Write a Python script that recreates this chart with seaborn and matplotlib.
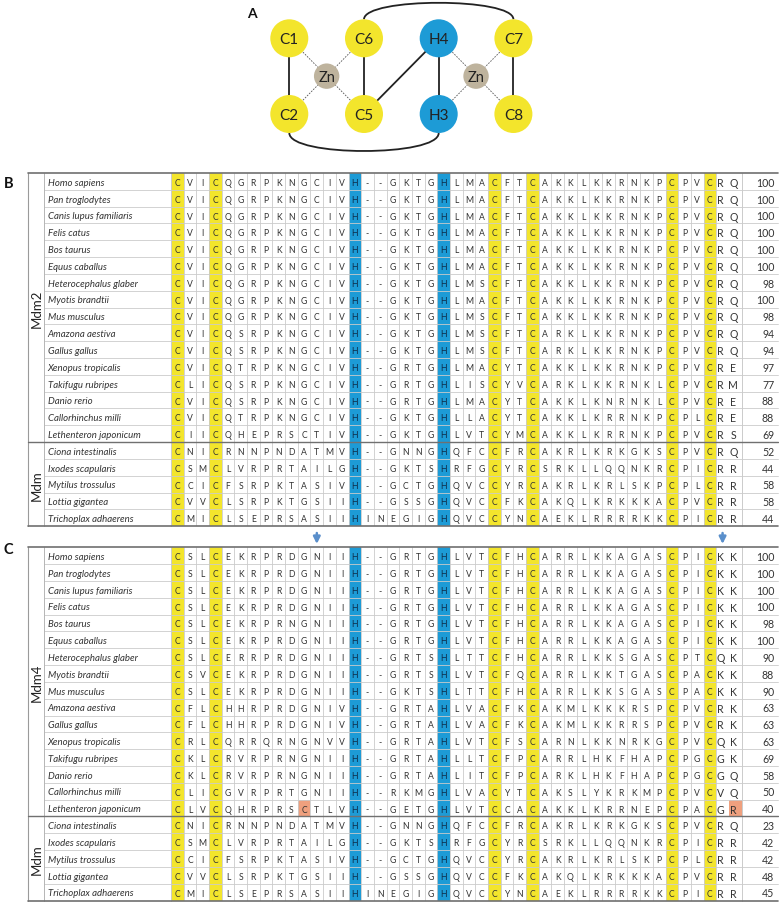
import numpy as np
import pandas as pd
import matplotlib
matplotlib.use("Agg")
import matplotlib.pyplot as plt
import seaborn as sns
from matplotlib.colors import ListedColormap
from matplotlib.patches import Circle, PathPatch
from matplotlib.path import Path

# ---------------- data ----------------
species = ["Homo sapiens", "Pan troglodytes", "Canis lupus familiaris", "Felis catus",
           "Bos taurus", "Equus caballus", "Heterocephalus glaber", "Myotis brandtii",
           "Mus musculus", "Amazona aestiva", "Gallus gallus", "Xenopus tropicalis",
           "Takifugu rubripes", "Danio rerio", "Callorhinchus milli", "Lethenteron japonicum",
           "Ciona intestinalis", "Ixodes scapularis", "Mytilus trossulus", "Lottia gigantea",
           "Trichoplax adhaerens"]

groups_b = [("Mdm2", 16), ("Mdm", 5)]
groups_c = [("Mdm4", 16), ("Mdm", 5)]

mdm2_seqs = [
    "CVICQGRPKNGCIVH--GKTGHLMACFTCAKKLKKRNKPCPVCRQ",
    "CVICQGRPKNGCIVH--GKTGHLMACFTCAKKLKKRNKPCPVCRQ",
    "CVICQGRPKNGCIVH--GKTGHLMACFTCAKKLKKRNKPCPVCRQ",
    "CVICQGRPKNGCIVH--GKTGHLMACFTCAKKLKKRNKPCPVCRQ",
    "CVICQGRPKNGCIVH--GKTGHLMACFTCAKKLKKRNKPCPVCRQ",
    "CVICQGRPKNGCIVH--GKTGHLMACFTCAKKLKKRNKPCPVCRQ",
    "CVICQGRPKNGCIVH--GKTGHLMSCFTCAKKLKKRNKPCPVCRQ",
    "CVICQGRPKNGCIVH--GKTGHLMACFTCAKKLKKRNKPCPVCRQ",
    "CVICQGRPKNGCIVH--GKTGHLMSCFTCAKKLKKRNKPCPVCRQ",
    "CVICQSRPKNGCIVH--GKTGHLMSCFTCARKLKKRNKPCPVCRQ",
    "CVICQSRPKNGCIVH--GKTGHLMSCFTCARKLKKRNKPCPVCRQ",
    "CVICQTRPKNGCIVH--GRTGHLMACYTCAKKLKKRNKPCPVCRE",
    "CLICQSRPKNGCIVH--GRTGHLISCYVCARKLKKRNKLCPVCRM",
    "CVICQSRPKNGCIVH--GRTGHLMACYTCAKKLKNRNKLCPVCRE",
    "CVICQTRPKNGCIVH--GKTGHLLACYTCAKKLKRRNKPCPLCRE",
    "CIICQHEPRSCTIVH--GKTGHLVTCYMCAKKLKRRNKPCPVCRS",
    "CNICRNNPNDATMVH--GNNGHQFCCFRCAKRLKRKGKSCPVCRQ",
    "CSMCLVRPRTAILGH--GKTSHRFGCYRCSRKLLQQNKRCPICRR",
    "CCICFSRPKTASIVH--GCTGHQVCCYRCAKRLKRLSKPCPLCRR",
    "CVVCLSRPKTGSIIH--GSSGHQVCCFKCAKQLKRKKKACPVCRR",
    "CMICLSEPRSASIIHINEGIGHQVCCYNCAEKLRRRRKKCPICRR",
]
mdm2_identity = [100, 100, 100, 100, 100, 100, 98, 100, 98, 94, 94, 97, 77, 88, 88, 69,
                 52, 44, 58, 58, 44]

mdm4_seqs = [
    "CSLCEKRPRDGNIIH--GRTGHLVTCFHCARRLKKAGASCPICKK",
    "CSLCEKRPRDGNIIH--GRTGHLVTCFHCARRLKKAGASCPICKK",
    "CSLCEKRPRDGNIIH--GRTGHLVTCFHCARRLKKAGASCPICKK",
    "CSLCEKRPRDGNIIH--GRTGHLVTCFHCARRLKKAGASCPICKK",
    "CSLCEKRPRNGNIIH--GRTGHLVTCFHCARRLKKAGASCPICKK",
    "CSLCEKRPRDGNIIH--GRTGHLVTCFHCARRLKKAGASCPICKK",
    "CSLCERRPRDGNIIH--GRTSHLTTCFHCARRLKKSGASCPTCQK",
    "CSVCEKRPRDGNIIH--GRTSHLVTCFQCARRLKKTGASCPACKK",
    "CSLCEKRPRDGNIIH--GKTSHLTTCFHCARRLKKSGASCPACKK",
    "CFLCHHRPRDGNIVH--GRTAHLVACFKCAKMLKKKRSPCPVCRK",
    "CFLCHHRPRDGNIVH--GRTAHLVACFKCAKMLKKRRSPCPVCRK",
    "CRLCQRRQRNGNVVH--GRTAHLVTCFSCARNLKKNRKGCPVCQK",
    "CKLCRVRPRNGNIIH--GRTAHLLTCFPCARRLHKFHAPCPGCGK",
    "CKLCRVRPRNGNIIH--GRTAHLITCFPCARKLHKFHAPCPGCGQ",
    "CLICGVRPRTGNIIH--RKMGHLVACYTCAKSLYKRKMPCPVCVQ",
    "CLVCQHRPRSCTLVH--GETGHLVTCCACAKKLKRRNEPCPACGR",
    "CNICRNNPNDATMVH--GNNGHQFCCFRCAKRLKRKGKSCPVCRQ",
    "CSMCLVRPRTAILGH--GKTSHRFGCYRCSRKLLQQNKRCPICRR",
    "CCICFSRPKTASIVH--GCTGHQVCCYRCAKRLKRLSKPCPLCRR",
    "CVVCLSRPKTGSIIH--GSSGHQVCCFKCAKQLKRKKKACPVCRR",
    "CMICLSEPRSASIIHINEGIGHQVCCYNCAEKLRRRRKKCPICRR",
]
mdm4_identity = [100, 100, 100, 100, 98, 100, 90, 88, 90, 63, 63, 63, 69, 58, 50, 40,
                 23, 42, 42, 48, 45]

cys_cols = [1, 4, 26, 29, 40, 43]          # zinc-binding cysteines (yellow)
his_cols = [15, 22]                        # zinc-binding histidines (blue)
mdm4_new_cys = [("Lethenteron japonicum", 11), ("Lethenteron japonicum", 45)]
arrow_cols_c = [12, 44]

# Panel A: zinc finger topology (grid units)
node_grid = {"C1": (0, 0), "C2": (0, 1), "C6": (1, 0), "C5": (1, 1),
             "H4": (2, 0), "H3": (2, 1), "C7": (3, 0), "C8": (3, 1)}
zn_grid = [(0.5, 0.5), (2.5, 0.5)]
bonds = [("C1", "C2"), ("C6", "C5"), ("H4", "H3"), ("C7", "C8"), ("C5", "H4")]
zn_ligands = [["C1", "C2", "C6", "C5"], ["H4", "H3", "C7", "C8"]]
top_arc = ("C6", "C7")
bottom_arc = ("C2", "H3")

# ---------------- style ----------------
sns.set_theme(style="white")
plt.rcParams["font.family"] = ["Lato", "DejaVu Sans"]

YEL = "#F3E52C"
BLU = "#1D9BD6"
ZNC = "#BEB39D"
SAL = "#EFA07E"
GRID = "#CBCBCB"
DARK = "#707070"
TXT = "#333333"
ARROW = "#5A8FCB"

W, H = 779, 904
fig = plt.figure(figsize=(W / 100, H / 100), dpi=100)
fig.patch.set_facecolor("white")
bg = fig.add_axes([0, 0, 1, 1])
bg.set_xlim(0, W)
bg.set_ylim(H, 0)
bg.axis("off")
bg.set_zorder(5)

# ---------------- Panel A ----------------
GX0, GY0, GSX, GSY = 289.3, 39.3, 74.7, 75.7
R_NODE, R_ZN = 19.0, 12.7


def gpos(g):
    return GX0 + g[0] * GSX, GY0 + g[1] * GSY


for (a, b) in bonds:
    (x1, y1), (x2, y2) = gpos(node_grid[a]), gpos(node_grid[b])
    bg.plot([x1, x2], [y1, y2], color="#222222", lw=1.3, zorder=1, solid_capstyle="butt")
for zg, ligs in zip(zn_grid, zn_ligands):
    zx, zy = gpos(zg)
    for l in ligs:
        lx, ly = gpos(node_grid[l])
        bg.plot([zx, lx], [zy, ly], color="#555555", lw=0.6, ls=(0, (2, 1.5)), zorder=1)

# arcs
(ax1, ay1), (ax2, ay2) = gpos(node_grid[top_arc[0]]), gpos(node_grid[top_arc[1]])
p0, p3 = (ax1, ay1 - R_NODE), (ax2, ay2 - R_NODE)
path = Path([p0, (ax1, p0[1] - 22), (ax2, p3[1] - 22), p3],
            [Path.MOVETO, Path.CURVE4, Path.CURVE4, Path.CURVE4])
bg.add_patch(PathPatch(path, fc="none", ec="#222222", lw=1.3, zorder=1))
(bx1, by1), (bx2, by2) = gpos(node_grid[bottom_arc[0]]), gpos(node_grid[bottom_arc[1]])
q0, q3 = (bx1, by1 + R_NODE), (bx2, by2 + R_NODE)
path = Path([q0, (bx1, q0[1] + 24), (bx2, q3[1] + 24), q3],
            [Path.MOVETO, Path.CURVE4, Path.CURVE4, Path.CURVE4])
bg.add_patch(PathPatch(path, fc="none", ec="#222222", lw=1.3, zorder=1))

for name, g in node_grid.items():
    x, y = gpos(g)
    bg.add_patch(Circle((x, y), R_NODE, fc=BLU if name.startswith("H") else YEL, ec="none", zorder=2))
    bg.text(x, y + 0.5, name, ha="center", va="center", fontsize=11, color="#222222", zorder=3)
for zg in zn_grid:
    x, y = gpos(zg)
    bg.add_patch(Circle((x, y), R_ZN, fc=ZNC, ec="none", zorder=2))
    bg.text(x, y + 0.5, "Zn", ha="center", va="center", fontsize=10.5, color="#222222", zorder=3)

bg.text(252, 14, "A", ha="center", va="center", fontsize=10, fontweight="bold", color="#111111")

# ---------------- Panels B and C ----------------
RH = 16.82
X_LEFT, X_GRP, X_ALN, CW = 28.3, 44.3, 171.0, 12.68
X_RIGHT = 778.0
cmap = ListedColormap(["white", YEL, BLU, SAL])


def draw_panel(top, seqs, ident, groups, extra, arrows, label, label_y):
    n, ncol = len(seqs), len(seqs[0])
    code = np.zeros((n, ncol))
    for j in cys_cols:
        code[:, j - 1] = 1
    for j in his_cols:
        code[:, j - 1] = 2
    for sp, j in extra:
        code[species.index(sp), j - 1] = 3
    df = pd.DataFrame(code, index=species, columns=range(1, ncol + 1))
    bottom = top + n * RH
    x_num = X_ALN + ncol * CW
    hax = fig.add_axes([X_ALN / W, 1 - bottom / H, ncol * CW / W, n * RH / H])
    sns.heatmap(df, ax=hax, cmap=cmap, vmin=-0.5, vmax=3.5, cbar=False,
                xticklabels=False, yticklabels=False)
    hax.set_xlabel("")
    hax.set_ylabel("")
    hax.tick_params(length=0)
    for j in range(1, ncol):
        if j == ncol - 1:
            continue  # last two residues share one cell
        hax.axvline(j, color=GRID, lw=0.6)
    for i in range(1, n):
        hax.axhline(i, color=GRID, lw=0.6)
    for i, s in enumerate(seqs):
        for j, ch in enumerate(s):
            big = j >= ncol - 2
            col = "#0E2C48" if code[i, j] == 2 else TXT
            hax.text(j + 0.5 - (0.15 if big else 0), i + 0.56, ch, ha="center", va="center",
                     fontsize=7.6 if big else 6.2, color=col)
    for c in arrows:
        hax.annotate("", xy=(c - 0.5, -0.2), xytext=(c - 0.5, -0.85), annotation_clip=False,
                     arrowprops=dict(arrowstyle="-|>", color=ARROW, lw=1.8, mutation_scale=10,
                                     shrinkA=0, shrinkB=0))

    # species names, identity
    for i, (sp, v) in enumerate(zip(species, ident)):
        yc = top + (i + 0.5) * RH + 0.8
        bg.text(X_GRP + 3.4, yc, sp, ha="left", va="center", fontsize=6.9, style="italic", color=TXT)
        bg.text(X_RIGHT - 3.8, yc, str(v), ha="right", va="center", fontsize=7.6, color=TXT)
    # row lines outside alignment
    for i in range(1, n):
        yy = top + i * RH
        bg.plot([X_GRP, X_ALN], [yy, yy], color=GRID, lw=0.6, zorder=0)
        bg.plot([x_num, X_RIGHT], [yy, yy], color=GRID, lw=0.6, zorder=0)
    # vertical lines
    for xx, c in [(X_GRP, "#B5B5B5"), (X_ALN, GRID), (x_num, GRID)]:
        bg.plot([xx, xx], [top, bottom], color=c, lw=0.7, zorder=0)
    bg.plot([X_LEFT, X_LEFT], [top, bottom], color="#9A9A9A", lw=0.8, zorder=0)
    # borders and group divider
    bg.plot([X_LEFT, X_RIGHT], [top, top], color=DARK, lw=1.2)
    bg.plot([X_LEFT, X_RIGHT], [bottom, bottom], color=DARK, lw=1.2)
    start = 0
    for gname, cnt in groups:
        if start > 0:
            yy = top + start * RH
            bg.plot([X_LEFT, X_RIGHT], [yy, yy], color=DARK, lw=1.0)
        yc = top + (start + cnt / 2) * RH
        bg.text((X_LEFT + X_GRP) / 2 + 0.5, yc, gname, rotation=90, ha="center", va="center",
                fontsize=9.5, color="#222222")
        start += cnt
    bg.text(8.5, label_y, label, ha="center", va="center", fontsize=10.5, fontweight="bold",
            color="#111111")


for s in mdm2_seqs + mdm4_seqs:
    assert len(s) == 45, s

draw_panel(174.0, mdm2_seqs, mdm2_identity, groups_b, [], [], "B", 184)
draw_panel(548.3, mdm4_seqs, mdm4_identity, groups_c, mdm4_new_cys, arrow_cols_c, "C", 550.5)

fig.savefig("out.png", dpi=100, facecolor="white")
